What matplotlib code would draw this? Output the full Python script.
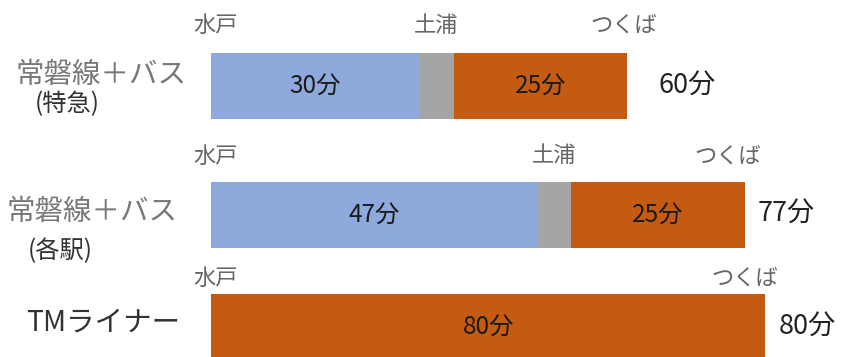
import numpy as np
import matplotlib.pyplot as plt

plt.rcParams['font.family'] = ['Noto Sans CJK JP', 'DejaVu Sans']

# data: minutes per leg (rail to Tsuchiura, transfer, bus to Tsukuba)
routes = ["常磐線＋バス", "常磐線＋バス", "TMライナー"]
route_notes = ["(特急)", "(各駅)", ""]
rail_min = [30, 47, 0]
transfer_min = [5, 5, 0]
bus_min = [25, 25, 80]
total_min = [60, 77, 80]
stations = [["水戸", "土浦", "つくば"], ["水戸", "土浦", "つくば"], ["水戸", "つくば"]]

# layout (figure is drawn in pixel-like y units, x in minutes)
W, H = 846, 357
x0_px, px_per_min = 211, 6.93
row_y = [86, 214.5, 327]
bar_h = 66
station_y = [25, 156, 278]
total_gap = [32, 13, 13]

c_blue = "#8EA9DB"
c_gray = "#A5A5A5"
c_orange = "#C55A11"

fig = plt.figure(figsize=(W / 100, H / 100), dpi=100)
ax = fig.add_axes([0, 0, 1, 1])
ax.set_xlim(-x0_px / px_per_min, (W - x0_px) / px_per_min)
ax.set_ylim(H, 0)
ax.axis("off")

rail = np.array(rail_min)
trans = np.array(transfer_min)
bus = np.array(bus_min)

ax.barh(row_y, rail, height=bar_h, color=c_blue)
ax.barh(row_y, trans, left=rail, height=bar_h, color=c_gray)
ax.barh(row_y, bus, left=rail + trans, height=bar_h, color=c_orange)

for i in range(len(routes)):
    y = row_y[i]
    # segment labels
    if rail[i] > 0:
        ax.text(rail[i] / 2, y, f"{rail[i]}分", ha="center", va="center",
                fontsize=17.5, color="#1a1a1a")
    ax.text(rail[i] + trans[i] + bus[i] / 2, y, f"{bus[i]}分", ha="center",
            va="center", fontsize=17.5, color="#1a1a1a")
    # total
    end = rail[i] + trans[i] + bus[i]
    ax.text(end + total_gap[i] / px_per_min, y, f"{total_min[i]}分", ha="left",
            va="center", fontsize=19.5, color="#222222")

    # station names above the bar
    names = stations[i]
    ax.text(0.6, station_y[i], names[0], ha="center", va="center",
            fontsize=16, color="#666666")
    if len(names) == 3:
        ax.text(rail[i] + trans[i] / 2, station_y[i], names[1], ha="center",
                va="center", fontsize=16, color="#666666")
    ax.text(end - 2.5 + (i == 0) * 2.0 + (i == 2) * (-0.5), station_y[i],
            names[-1], ha="center", va="center", fontsize=16, color="#666666")

# route labels on the left
ax.text(-110 / px_per_min, 75, routes[0], ha="center", va="center",
        fontsize=20.5, color="#777777")
ax.text(-144 / px_per_min, 104, route_notes[0], ha="center", va="center",
        fontsize=17.5, color="#333333")
ax.text(-119 / px_per_min, 212, routes[1], ha="center", va="center",
        fontsize=20.5, color="#777777")
ax.text(-151 / px_per_min, 251, route_notes[1], ha="center", va="center",
        fontsize=17.5, color="#333333")
ax.text(-108 / px_per_min, 323, routes[2], ha="center", va="center",
        fontsize=20.5, color="#333333")

fig.savefig("out.png", dpi=100)
